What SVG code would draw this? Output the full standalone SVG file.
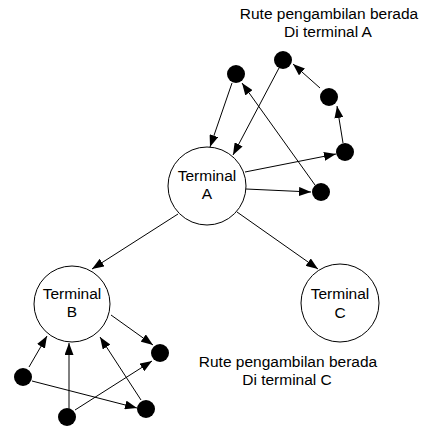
<svg xmlns="http://www.w3.org/2000/svg" width="422" height="428" viewBox="0 0 422 428">
  <style>
    .terminal { fill: #ffffff; stroke: #000000; stroke-width: 1; }
    .stop { fill: #000000; }
    .edge { stroke: #000000; stroke-width: 1; fill: none; marker-end: url(#arrow); }
    .label { font-family: "Liberation Sans", Arial, sans-serif; font-size: 15.5px; fill: #000000; text-anchor: middle; }
  </style>
  <defs>
    <marker id="arrow" markerUnits="userSpaceOnUse" markerWidth="12" markerHeight="9" refX="12" refY="4.5" orient="auto">
      <path d="M0,0 L12,4.5 L0,9 z" fill="#000000"/>
    </marker>
  </defs>

  <rect width="422" height="428" fill="#ffffff"/>

  <!-- connectors -->
  <g id="connectors">
    <!-- pickup route around terminal A -->
    <line class="edge" x1="232" y1="83" x2="210" y2="147"/>
    <line class="edge" x1="279" y1="68" x2="233" y2="155"/>
    <line class="edge" x1="315" y1="185" x2="242" y2="83"/>
    <line class="edge" x1="245" y1="172" x2="336" y2="154"/>
    <line class="edge" x1="246" y1="189" x2="311" y2="192"/>
    <line class="edge" x1="343" y1="143" x2="337" y2="106"/>
    <line class="edge" x1="320" y1="88" x2="293" y2="64"/>
    <!-- terminal A to B and C -->
    <line class="edge" x1="178" y1="214" x2="92" y2="269"/>
    <line class="edge" x1="237" y1="212" x2="318" y2="269"/>
    <!-- pickup route around terminal B -->
    <line class="edge" x1="111" y1="315" x2="153" y2="345"/>
    <line class="edge" x1="29" y1="367" x2="47" y2="336"/>
    <line class="edge" x1="69" y1="409" x2="69" y2="343"/>
    <line class="edge" x1="141" y1="400" x2="100" y2="337"/>
    <line class="edge" x1="32" y1="381" x2="137" y2="408"/>
    <line class="edge" x1="75" y1="410" x2="152" y2="361"/>
  </g>

  <!-- terminals -->
  <g id="terminal-a">
    <circle class="terminal" cx="207" cy="186" r="39"/>
    <text class="label" x="207" y="181">Terminal</text>
    <text class="label" x="207" y="199">A</text>
  </g>
  <g id="terminal-b">
    <circle class="terminal" cx="72" cy="304" r="38"/>
    <text class="label" x="72" y="299">Terminal</text>
    <text class="label" x="72" y="317">B</text>
  </g>
  <g id="terminal-c">
    <circle class="terminal" cx="340" cy="303" r="39"/>
    <text class="label" x="340" y="299">Terminal</text>
    <text class="label" x="340" y="318">C</text>
  </g>

  <!-- pickup stops near terminal A -->
  <g id="stop-a1"><circle class="stop" cx="236" cy="74" r="9"/></g>
  <g id="stop-a2"><circle class="stop" cx="283" cy="60" r="9"/></g>
  <g id="stop-a3"><circle class="stop" cx="329" cy="97" r="9"/></g>
  <g id="stop-a4"><circle class="stop" cx="345" cy="152" r="9"/></g>
  <g id="stop-a5"><circle class="stop" cx="321" cy="192" r="9"/></g>

  <!-- pickup stops near terminal B -->
  <g id="stop-b1"><circle class="stop" cx="23" cy="377" r="9"/></g>
  <g id="stop-b2"><circle class="stop" cx="160" cy="353" r="9"/></g>
  <g id="stop-b3"><circle class="stop" cx="67" cy="417" r="9"/></g>
  <g id="stop-b4"><circle class="stop" cx="146" cy="409" r="9"/></g>

  <!-- captions -->
  <g id="caption-a">
    <text class="label" x="329" y="19">Rute pengambilan berada</text>
    <text class="label" x="328" y="37">Di terminal A</text>
  </g>
  <g id="caption-c">
    <text class="label" x="288" y="367">Rute pengambilan berada</text>
    <text class="label" x="287" y="385">Di terminal C</text>
  </g>
</svg>
